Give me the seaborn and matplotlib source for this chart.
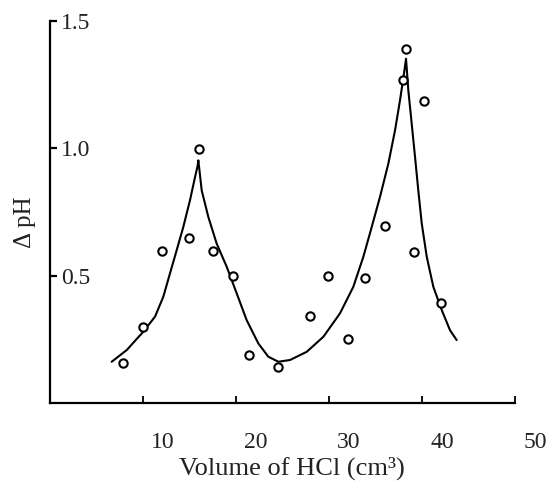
import matplotlib
matplotlib.use("Agg")
import matplotlib.pyplot as plt
import matplotlib.transforms as mtransforms
import pandas as pd
import seaborn as sns

# Measured points (volume of HCl added vs change in pH)
vol_points = [7.88, 9.97, 12.08, 14.95, 16.02, 17.56, 19.71, 21.43, 24.55,
              27.96, 29.92, 32.01, 33.87, 36.02, 37.99, 38.28, 39.14, 40.22, 42.04]
dph_points = [0.156, 0.299, 0.597, 0.646, 0.999, 0.597, 0.499, 0.188, 0.142,
              0.341, 0.498, 0.250, 0.490, 0.694, 1.267, 1.392, 0.593, 1.185, 0.392]

# Hand-drawn curve through the points
vol_curve = [6.63, 8.25, 10.03, 11.29, 12.18, 12.90, 13.62, 14.33, 15.05,
             15.52, 15.88, 15.95,
             16.31, 17.02, 17.92, 19.00, 20.08, 21.15, 22.40, 23.47, 24.55,
             25.81, 27.60, 29.39, 31.18, 32.61, 33.69, 34.59, 35.48, 36.38,
             37.10, 37.63, 38.06, 38.28,
             38.53, 38.89, 39.25, 39.60, 39.97, 40.51, 41.22, 42.12, 43.01, 43.73]
dph_curve = [0.162, 0.208, 0.280, 0.339, 0.417, 0.509, 0.600, 0.691, 0.796,
             0.875, 0.933, 0.953,
             0.835, 0.731, 0.626, 0.535, 0.430, 0.325, 0.234, 0.182, 0.162,
             0.169, 0.201, 0.260, 0.352, 0.456, 0.574, 0.691, 0.809, 0.940,
             1.071, 1.188, 1.293, 1.352,
             1.227, 1.097, 0.966, 0.835, 0.705, 0.574, 0.456, 0.365, 0.286, 0.247]

x_ticks = [10, 20, 30, 40, 50]
y_ticks = [0.5, 1.0, 1.5]

points = pd.DataFrame({"vol": vol_points, "dph": dph_points})
curve = pd.DataFrame({"vol": vol_curve, "dph": dph_curve})

sns.set_theme(style="white")
plt.rcParams["font.family"] = ["Liberation Serif", "DejaVu Serif"]

fig = plt.figure(figsize=(5.52, 4.83), dpi=100)
ax = fig.add_axes([0.0906, 0.1656, 0.8424, 0.7909])

sns.lineplot(data=curve, x="vol", y="dph", ax=ax, color="black",
             linewidth=1.5, sort=False, estimator=None)
sns.scatterplot(data=points, x="vol", y="dph", ax=ax, marker="o", s=36,
                facecolor="white", edgecolor="black", linewidth=1.5, zorder=3)

ax.set_xlim(0, 50)
ax.set_ylim(0, 1.5)
ax.set_xticks(x_ticks)
ax.set_yticks(y_ticks)
ax.set_xticklabels([str(t) for t in x_ticks])
ax.set_yticklabels([f"{t:.1f}" for t in y_ticks])

for side in ["top", "right"]:
    ax.spines[side].set_visible(False)
for side in ["left", "bottom"]:
    ax.spines[side].set_color("black")
    ax.spines[side].set_linewidth(1.6)

ax.tick_params(axis="x", direction="in", length=5, width=1.3, color="black",
               pad=21, labelsize=17, labelcolor="#222222", bottom=True)
ax.tick_params(axis="y", direction="in", length=5, width=1.6, color="black",
               pad=-8, labelsize=17, labelcolor="#222222", left=True)
for lab in ax.get_yticklabels():
    lab.set_horizontalalignment("left")

# labels in the scan sit a little right of their ticks
shift = mtransforms.ScaledTranslation(0.2, 0, fig.dpi_scale_trans)
for lab in ax.get_xticklabels():
    lab.set_transform(lab.get_transform() + shift)

ax.set_xlabel("Volume of HCl (cm³)", fontsize=19, color="#222222")
ax.set_ylabel("Δ pH", fontsize=18, color="#222222")
ax.xaxis.set_label_coords(0.52, -0.14)
ax.yaxis.set_label_coords(-0.03, 0.474)

fig.savefig("out.png", dpi=100, facecolor="white")
